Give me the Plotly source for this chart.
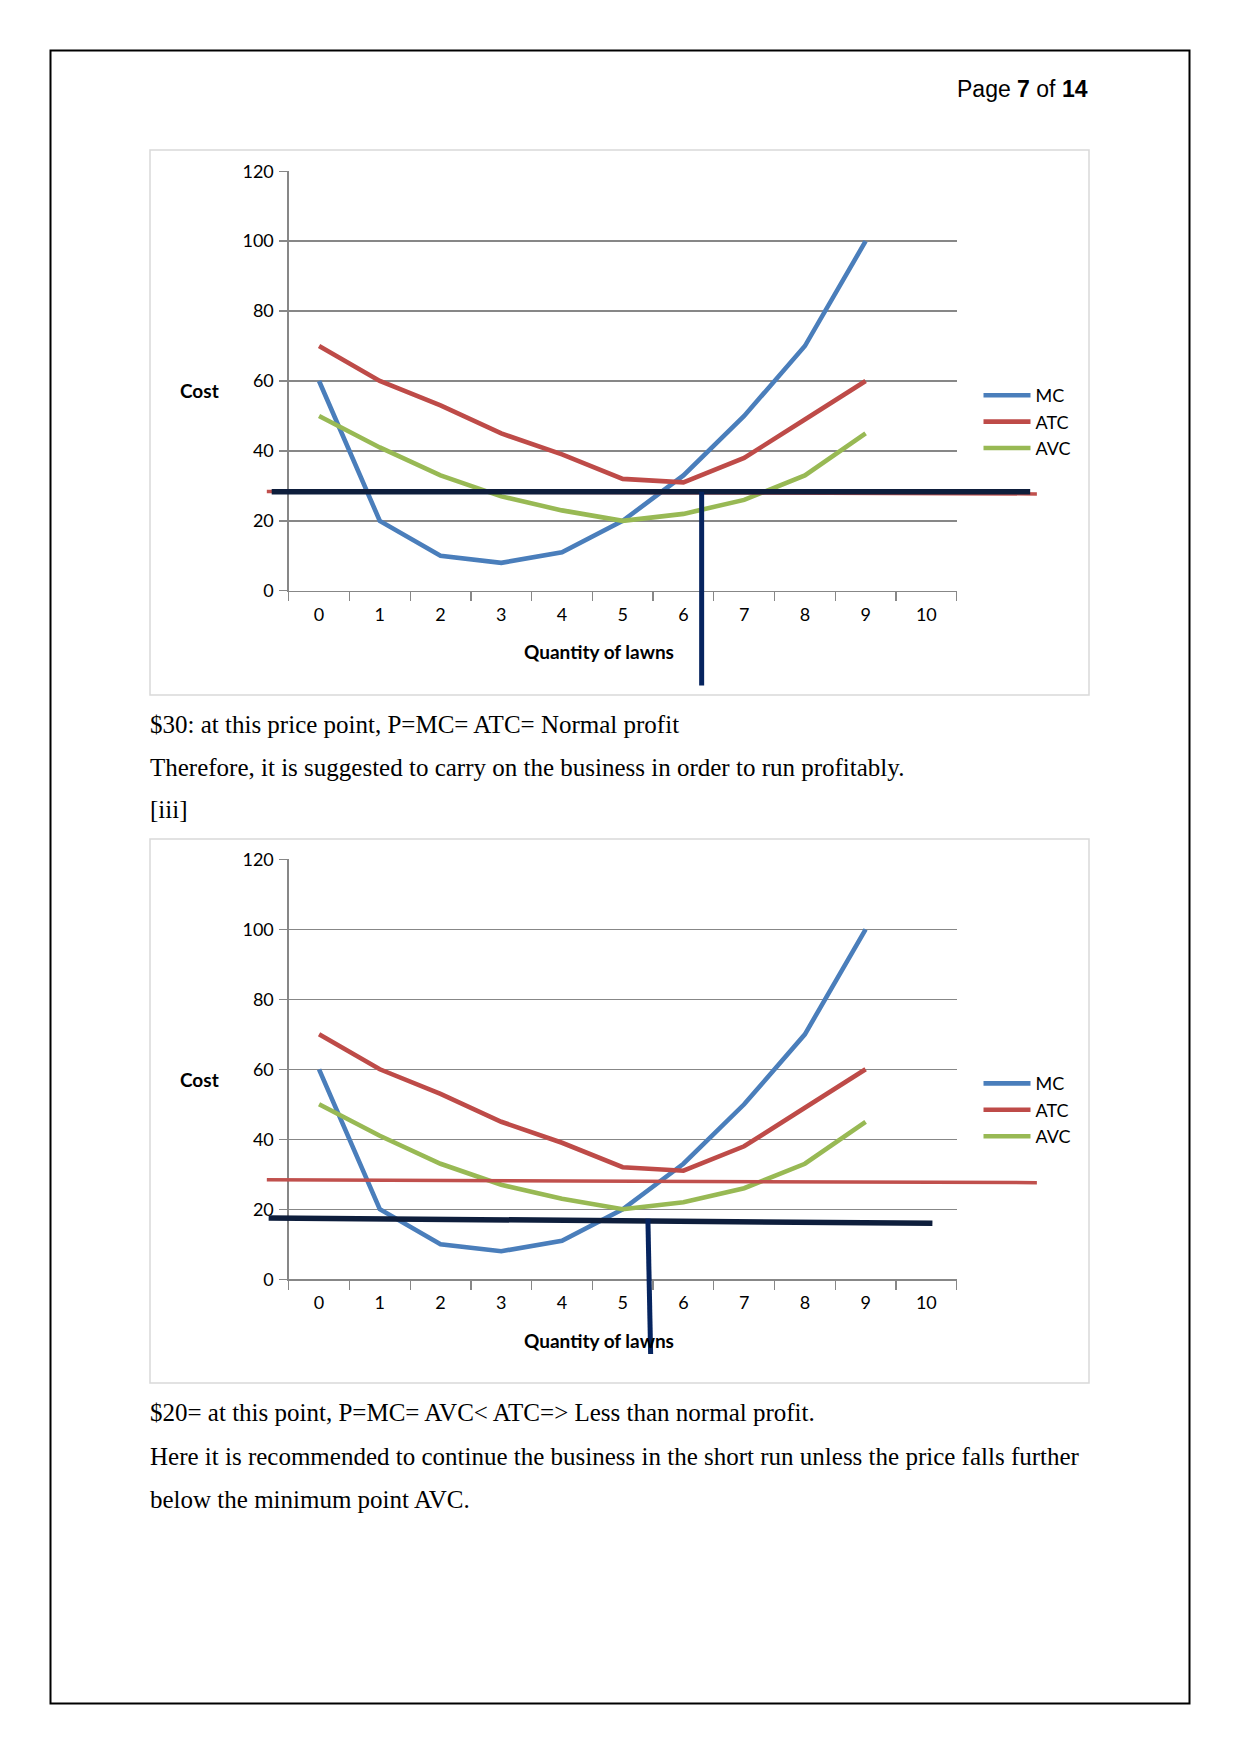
import plotly.graph_objects as go

W, H = 1241, 1754

# ---------------- data ----------------
quantity_labels = ['0', '1', '2', '3', '4', '5', '6', '7', '8', '9', '10']
quantity = ['0', '1', '2', '3', '4', '5', '6', '7', '8', '9']
mc = [60, 20, 10, 8, 11, 20, 33, 50, 70, 100]
atc = [70, 60, 53, 45, 39, 32, 31, 38, 49, 60]
avc = [50, 41, 33, 27, 23, 20, 22, 26, 33, 45]
cost_ticks = [0, 20, 40, 60, 80, 100, 120]

# hand-drawn overlay lines (quantity index, cost)
c1_red_q = [-0.86, 11.82]
c1_red_cost = [28.4, 27.7]
c1_price_q = [-0.78, 11.71]
c1_price_cost = [28.3, 28.3]
c1_drop_q = [6.30, 6.30]
c1_drop_cost = [28.3, -27.1]

c2_red_q = [-0.86, 11.82]
c2_red_cost = [28.4, 27.6]
c2_price_q = [-0.83, 10.10]
c2_price_cost = [17.5, 16.0]
c2_drop_q = [5.415, 5.46]
c2_drop_cost = [17.3, -21.4]

series_names = ['MC', 'ATC', 'AVC']
series_colors = ['#4A7EBB', '#BE4B48', '#98B954']

# ---------------- geometry (pixels) ----------------
PX_L, PX_R = 288.7, 956.7
charts = [
    dict(top=171.2, bottom=590.8, box=(150, 150, 1089, 695)),
    dict(top=859.4, bottom=1279.2, box=(150, 839, 1089, 1383)),
]


def fx(px):
    return px / W


def fy(py):
    return 1 - py / H


fig = go.Figure()
layout = dict(
    width=W, height=H, autosize=False,
    margin=dict(l=0, r=0, t=0, b=0, pad=0, autoexpand=False),
    paper_bgcolor='white', plot_bgcolor='rgba(0,0,0,0)',
    showlegend=True,
    font=dict(family='Lato', size=18, color='#000000'),
)

grid_col = '#878787'
annotations = []
shapes = []

overlays = [
    [(c1_red_q, c1_red_cost, '#C0504D', 3.5), (c1_price_q, c1_price_cost, '#0E1E3C', 5.5),
     (c1_drop_q, c1_drop_cost, '#06245F', 5)],
    [(c2_red_q, c2_red_cost, '#C0504D', 3.5), (c2_price_q, c2_price_cost, '#0E1E3C', 5.5),
     (c2_drop_q, c2_drop_cost, '#06245F', 5)],
]

for i, ch in enumerate(charts):
    n = i + 1
    xa = 'x' if n == 1 else f'x{n}'
    ya = 'y' if n == 1 else f'y{n}'
    legend_name = 'legend' if n == 1 else f'legend{n}'
    for name, vals, col in zip(series_names, [mc, atc, avc], series_colors):
        fig.add_trace(go.Scatter(
            x=quantity, y=vals, name=name, mode='lines',
            line=dict(color=col, width=4.6), xaxis=xa, yaxis=ya,
            legend=legend_name, hoverinfo='skip'))
    xkey = 'xaxis' if n == 1 else f'xaxis{n}'
    ykey = 'yaxis' if n == 1 else f'yaxis{n}'
    layout[xkey] = dict(
        domain=[fx(PX_L), fx(PX_R)], anchor=ya, type='category',
        categoryorder='array', categoryarray=quantity_labels,
        range=[-0.5, 10.5], showgrid=False, showline=True, linecolor=grid_col,
        linewidth=1.3, ticks='outside', ticklen=9, tickwidth=1.3, tickcolor=grid_col,
        tickson='boundaries', tickfont=dict(family='Lato', size=18, color='#000'),
        ticklabelstandoff=7, zeroline=False, fixedrange=True, automargin=False)
    layout[ykey] = dict(
        domain=[fy(ch['bottom']), fy(ch['top'])], anchor=xa,
        range=[0, 120], tickvals=cost_ticks, showgrid=True, gridcolor=grid_col,
        gridwidth=1.3, showline=True, linecolor=grid_col, linewidth=1.3,
        ticks='outside', ticklen=8, tickwidth=1.3, tickcolor=grid_col,
        tickfont=dict(family='Lato', size=18, color='#000'),
        ticklabelstandoff=2, zeroline=False, fixedrange=True, automargin=False)
    layout[legend_name] = dict(
        x=fx(978.5), y=fy(377 + (ch['top'] - charts[0]['top'])), xanchor='left', yanchor='top',
        font=dict(family='Lato', size=18, color='#000'),
        bgcolor='rgba(0,0,0,0)', borderwidth=0, itemwidth=47,
        tracegroupgap=0, itemclick=False, itemdoubleclick=False)

    # overlay axes aligned with this chart's scales, spanning the full page
    on = n + 2
    oxkey, oykey = f'xaxis{on}', f'yaxis{on}'
    q_per_px = 11.0 / (PX_R - PX_L)
    c_per_px = 120.0 / (ch['bottom'] - ch['top'])
    layout[oxkey] = dict(domain=[0, 1], anchor=f'y{on}', visible=False,
                         range=[-0.5 - PX_L * q_per_px, -0.5 + (W - PX_L) * q_per_px],
                         fixedrange=True)
    layout[oykey] = dict(domain=[0, 1], anchor=f'x{on}', visible=False,
                         range=[-(H - ch['bottom']) * c_per_px, ch['bottom'] * c_per_px],
                         fixedrange=True)
    for qx, cy, col, wd in overlays[i]:
        fig.add_trace(go.Scatter(x=qx, y=cy, mode='lines', showlegend=False,
                                 line=dict(color=col, width=wd),
                                 xaxis=f'x{on}', yaxis=f'y{on}', hoverinfo='skip'))

    # axis titles
    off = ch['top'] - charts[0]['top']
    annotations.append(dict(text='<b>Cost</b>', xref='paper', yref='paper',
                            x=fx(199), y=fy(391 + off), showarrow=False,
                            xanchor='center', yanchor='middle',
                            font=dict(family='Lato', size=19, color='#000')))
    annotations.append(dict(text='<b>Quantity of lawns</b>', xref='paper', yref='paper',
                            x=fx(599), y=fy(652 + off), showarrow=False,
                            xanchor='center', yanchor='middle',
                            font=dict(family='Lato', size=19, color='#000')))
    x0, y0, x1, y1 = ch['box']
    shapes.append(dict(type='rect', xref='paper', yref='paper',
                       x0=fx(x0), x1=fx(x1), y0=fy(y0), y1=fy(y1),
                       line=dict(color='#D9D9D9', width=1.5), layer='below'))

# page border
shapes.append(dict(type='rect', xref='paper', yref='paper',
                   x0=fx(50.5), x1=fx(1189.5), y0=fy(50.5), y1=fy(1703.5),
                   line=dict(color='#000', width=2)))

# header
annotations.append(dict(text='Page <b>7</b> of <b>14</b>', xref='paper', yref='paper',
                        x=fx(1089.5), y=fy(89), xanchor='right', yanchor='middle',
                        showarrow=False,
                        font=dict(family='Liberation Sans', size=23, color='#000')))

para_lines_1 = [
    '$30: at this price point, P=MC= ATC= Normal profit',
    'Therefore, it is suggested to carry on the business in order to run profitably.',
    '[iii]',
]
para_y_1 = [724, 767.5, 810]
para_lines_2 = [
    '$20= at this point, P=MC= AVC&lt; ATC=&gt; Less than normal profit.',
    'Here it is recommended to continue the business in the short run unless the price falls further',
    'below the minimum point AVC.',
]
para_y_2 = [1412, 1456, 1499]
for txt, yy in list(zip(para_lines_1, para_y_1)) + list(zip(para_lines_2, para_y_2)):
    annotations.append(dict(text=txt, xref='paper', yref='paper', x=fx(148), y=fy(yy),
                            xanchor='left', yanchor='middle', showarrow=False,
                            font=dict(family='Liberation Serif', size=25, color='#000')))

layout['annotations'] = annotations
layout['shapes'] = shapes
fig.update_layout(**layout)

fig.write_html('out.html', config={'displayModeBar': False, 'staticPlot': True},
               post_script="document.body.style.margin='0';document.body.style.overflow='hidden';")
